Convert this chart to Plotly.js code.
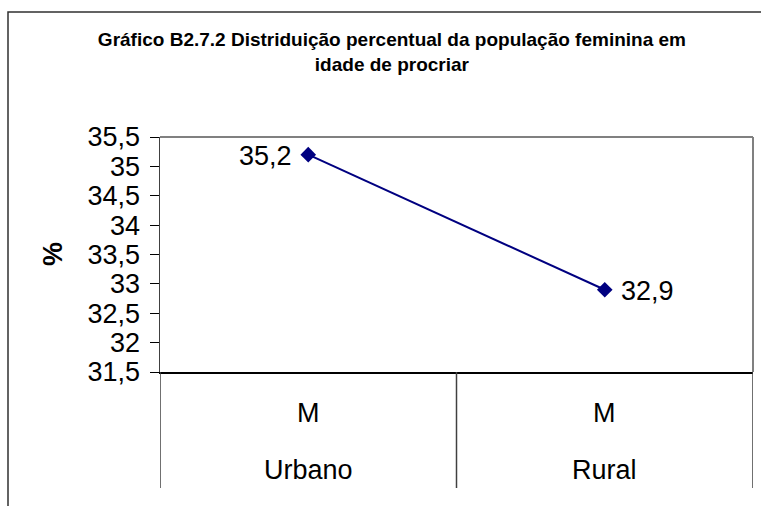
<!DOCTYPE html>
<html>
<head>
<meta charset="utf-8">
<script src="https://cdn.plot.ly/plotly-3.0.1.min.js"></script>
<style>html,body{margin:0;padding:0;background:#fff;}#chart{width:761px;height:506px;}</style>
</head>
<body>
<div id="chart"></div>
<script>
const regions = ["Urbano", "Rural"];
const sexes = ["M", "M"];
const values = [35.2, 32.9];
const valueLabels = ["35,2", "32,9"];
const yTicks = [31.5, 32, 32.5, 33, 33.5, 34, 34.5, 35, 35.5];
const yTickLabels = ["31,5", "32", "32,5", "33", "33,5", "34", "34,5", "35", "35,5"];
const titleText = "Gráfico B2.7.2 Distriduição percentual da população feminina em<br>idade de procriar";
const yTitle = "%";

const FONT = "Arial, 'Liberation Sans', sans-serif";
const plotH = 235, plotW = 593;
const py = p => (372 - p) / plotH;     // pixel y -> paper
const px = p => (p - 160) / plotW;     // pixel x -> paper

const trace = {
  x: [0, 1],
  y: values,
  type: "scatter",
  mode: "lines+markers",
  line: {color: "#000080", width: 2},
  marker: {symbol: "diamond", size: 12, color: "#000080"},
  cliponaxis: false,
  hoverinfo: "none"
};

const annotations = [];
values.forEach((v, i) => {
  const left = i === 0;
  annotations.push({x: i, xref: "x", y: v, yref: "y", text: valueLabels[i], showarrow: false,
    xanchor: left ? "right" : "left", xshift: left ? -14 : 14, yanchor: "middle", yshift: -1,
    font: {family: FONT, size: 27, color: "#000"}});
});
regions.forEach((r, i) => {
  annotations.push({x: i, xref: "x", y: py(413), yref: "paper", text: sexes[i], showarrow: false,
    font: {family: FONT, size: 27, color: "#000"}, xanchor: "center", yanchor: "middle"});
  annotations.push({x: i, xref: "x", y: py(470), yref: "paper", text: r, showarrow: false,
    font: {family: FONT, size: 27, color: "#000"}, xanchor: "center", yanchor: "middle"});
});
annotations.push({x: px(53), xref: "paper", y: py(254), yref: "paper", text: "<b>" + yTitle + "</b>",
  showarrow: false, textangle: -90, font: {family: FONT, size: 27, color: "#000"},
  xanchor: "center", yanchor: "middle"});

const shapes = [];
// outer chart border (left and top visible)
shapes.push({type: "rect", xref: "paper", yref: "paper", x0: px(8), x1: px(775), y0: py(520), y1: py(12),
  line: {color: "#303030", width: 1.5}, layer: "below"});
// plot area top and right border
shapes.push({type: "line", xref: "paper", yref: "paper", x0: 0, x1: 1, y0: 1, y1: 1, line: {color: "#808080", width: 2}});
shapes.push({type: "line", xref: "paper", yref: "paper", x0: 1, x1: 1, y0: 0, y1: 1, line: {color: "#808080", width: 2}});
// category separators
[-0.5, 0.5, 1.5].forEach(b => {
  shapes.push({type: "line", xref: "x", yref: "paper", x0: b, x1: b, y0: 0, y1: py(488),
    line: {color: "#404040", width: 1.5}});
});

const layout = {
  width: 761, height: 506,
  margin: {l: 160, r: 8, t: 137, b: 134},
  paper_bgcolor: "#fff", plot_bgcolor: "#fff",
  showlegend: false,
  separators: ",.",
  title: {text: "<b>" + titleText + "</b>", font: {family: FONT, size: 19, color: "#000"},
    x: 0.515, xanchor: "center", y: 1 - 46/506, yanchor: "middle"},
  xaxis: {type: "linear", range: [-0.5, 1.5], showgrid: false, zeroline: false, showticklabels: false,
    ticks: "", showline: true, linecolor: "#000", linewidth: 1.5, fixedrange: true},
  yaxis: {range: [31.5, 35.5], tickvals: yTicks, ticktext: yTickLabels, ticks: "outside", ticklen: 9,
    tickcolor: "#000", tickwidth: 1, showgrid: false, zeroline: false, showline: true,
    linecolor: "#404040", linewidth: 1.5, ticklabelstandoff: 4,
    tickfont: {family: FONT, size: 27, color: "#000"}, fixedrange: true},
  annotations: annotations,
  shapes: shapes
};

Plotly.newPlot("chart", [trace], layout, {staticPlot: true, displayModeBar: false});
</script>
</body>
</html>
